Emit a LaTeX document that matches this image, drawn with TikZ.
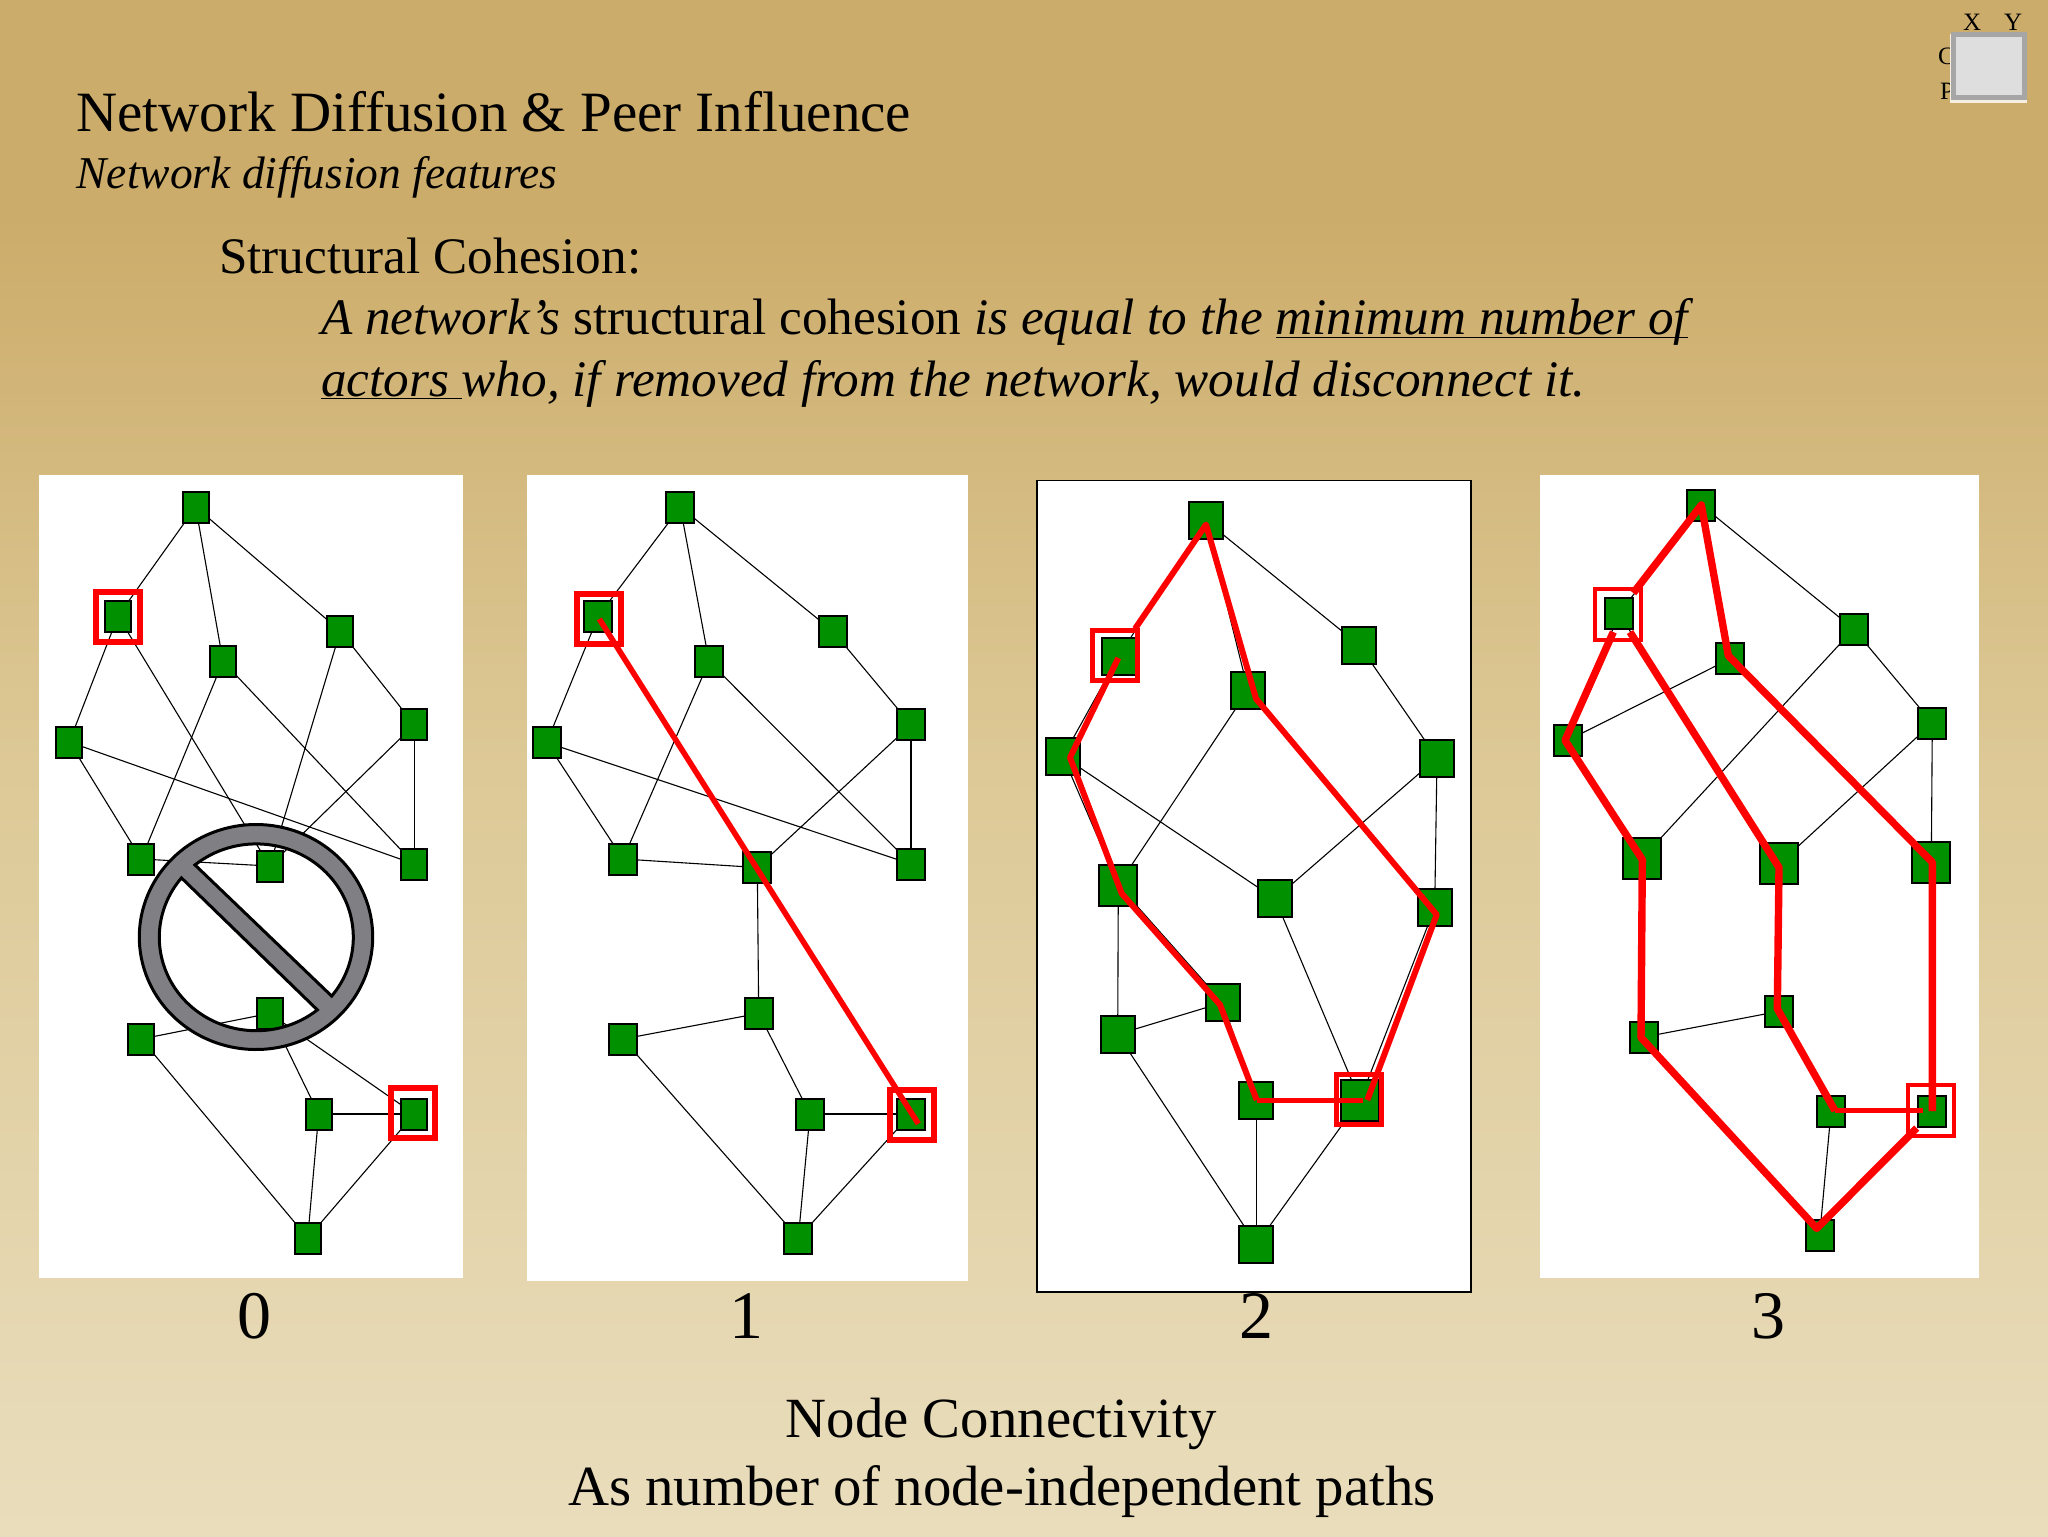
\documentclass[tikz,border=0pt]{standalone}
\usepackage{fontspec}
\setmainfont{Liberation Serif}
\definecolor{bgtop}{HTML}{CCAC6A}
\definecolor{bgmid}{HTML}{DDC997}
\definecolor{bgbot}{HTML}{E9DDBC}
\definecolor{ndgreen}{HTML}{009000}
\definecolor{signgray}{HTML}{7F7F84}
\pgfdeclareverticalshading{slidebg}{100bp}{color(0bp)=(bgbot); color(25bp)=(bgbot); color(50bp)=(bgmid); color(68bp)=(bgtop); color(75bp)=(bgtop); color(100bp)=(bgtop)}
\newcommand{\ulsm}[1]{\underline{\smash{#1}}}
\tikzset{
  nd/.style={rectangle,draw=black,line width=1pt,fill=ndgreen,inner sep=0pt,outer sep=0pt,minimum width=13pt,minimum height=15.5pt},
  ndw/.style={nd,minimum width=14pt},
  ndm/.style={nd,minimum width=17pt,minimum height=18.5pt},
  ndl/.style={nd,minimum width=19pt,minimum height=20.5pt},
  edge/.style={black,line width=0.55pt},
  hl/.style={rectangle,draw=red,line width=3pt,inner sep=0pt,outer sep=0pt,minimum width=22pt,minimum height=25pt},
  hlt/.style={hl,line width=2pt,minimum width=23pt,minimum height=25.5pt},
  hlm/.style={hl,line width=2.6pt,minimum width=22.5pt,minimum height=25pt},
  redp/.style={draw=red,line width=#1,line join=round,line cap=butt},
  txt/.style={inner sep=0pt,outer sep=0pt,anchor=base west,text=black},
  txtc/.style={inner sep=0pt,outer sep=0pt,anchor=base,text=black},
}
\begin{document}
\begin{tikzpicture}[x=0.5pt,y=-0.5pt]
\useasboundingbox (0,0) rectangle (2048,1536);
\shade[shading=slidebg] (0,0) rectangle (2048,1536);
% corner widget
\node[txtc,font=\fontsize{12.5}{14}\selectfont] (lx) at (1972,31) {X};
\node[txtc,font=\fontsize{12.5}{14}\selectfont] (ly) at (2013,31) {Y};
\node[txt,font=\fontsize{12.5}{14}\selectfont] (lc) at (1938,65) {C};
\node[txt,font=\fontsize{12.5}{14}\selectfont] (lp) at (1940,99) {P};
\fill[white!80!bgtop] (1950,34) rectangle (2027,103);
\fill[black!35] (1951,32) rectangle (2027,100);
\fill[black!13] (1956,37) rectangle (2022,95);
% text
\node[txt,font=\fontsize{28.5}{30}\selectfont] (title) at (76.5,132) {Network Diffusion \& Peer Influence};
\node[txt,font=\fontsize{22.75}{26}\selectfont\itshape] (sub) at (76.5,188) {Network diffusion features};
\node[txt,font=\fontsize{25.6}{28}\selectfont] (sc) at (219,273) {Structural Cohesion:};
\node[txt,font=\fontsize{25.6}{28}\selectfont] (l1) at (321,334.5) {\textit{A network’s} structural cohesion \textit{is equal to the} \textit{\ulsm{minimum number of}}};
\node[txt,font=\fontsize{25.6}{28}\selectfont\itshape] (l2) at (321,396) {\ulsm{actors\ }who, if removed from the network, would disconnect it.};
\foreach \t/\x in {0/254.7,1/746,2/1256,3/1768}
  \node[txtc,font=\fontsize{34}{40}\selectfont] (dig\t) at (\x,1338) {\t};
\node[txtc,font=\fontsize{28.4}{30}\selectfont] (cap1) at (1001,1437) {Node Connectivity};
\node[txtc,font=\fontsize{28.4}{30}\selectfont] (cap2) at (1002,1505) {As number of node-independent paths};
% panels
\fill[white] (39,475) rectangle (463,1278);
\fill[white] (527,475) rectangle (968,1281);
\draw[fill=white,draw=black,line width=0.8pt] (1036.7,480.6) rectangle (1471,1292);
\fill[white] (1540,475) rectangle (1979,1278);
% panel 0
\foreach \n/\x/\y in {1/195.7/507,2/118/616,3/223/661.4,4/340.3/631,5/69.3/742,6/414.3/724.7,7/141.3/859,8/269.7/866,9/414.3/864,10/269.7/1013.4,11/141.3/1039,12/318.7/1114,13/414.3/1114,14/307.7/1238}
  \node[nd] (a\n) at (\x,\y) {};
\foreach \u/\v in {1/2,1/3,1/4,2/5,2/8,3/7,3/9,4/6,4/8,5/7,5/9,6/9,6/8,7/8,10/11,10/12,10/13,11/14,12/13,12/14,13/14}
  \draw[edge] (a\u) -- (a\v);
\path[fill=signgray,draw=black,line width=1.5pt,even odd rule]
  plot[domain=0:360,samples=120,smooth] ({256+116.7*cos(\x)},{937+112.5*sin(\x)}) -- cycle
  plot[domain=-129.2:39,samples=60,smooth] ({256.3+97*cos(\x)},{937.3+93.4*sin(\x)}) -- cycle
  plot[domain=51:219.5,samples=60,smooth] ({256.3+97*cos(\x)},{937.3+93.4*sin(\x)}) -- cycle;
\node[hl] (ab1) at (118,616.5) {};
\node[hl] (ab2) at (412.5,1112.5) {};
% panel 1
\foreach \n/\x/\y in {1/680.3/507,2/598.3/616,3/709/661.4,4/832.7/631,5/546.7/742.5,6/911/724.7,7/623/859,8/757.3/867.5,9/911/864,10/758.7/1013.4,11/623/1039,12/810/1114,13/911/1114,14/798.3/1238}
  \node[ndw] (b\n) at (\x,\y) {};
\foreach \u/\v in {1/2,1/3,1/4,2/5,3/7,3/9,4/6,5/7,5/9,6/9,6/8,7/8,8/10,10/11,10/12,12/13,11/14,12/14,13/14}
  \draw[edge] (b\u) -- (b\v);
\node[hl] (bb1) at (599,618.5) {};
\node[hl] (bb2) at (912.3,1115) {};
\coordinate (br1) at (599.3,619);
\coordinate (br2) at (918.3,1123.8);
\draw[redp=2.8pt] (br1) -- (br2);
% panel 2
\foreach \n/\x/\y in {1/1206/520.8,2/1118.7/656.3,3/1248/690.2,4/1359.3/645.2,5/1063/756.4,6/1437/758,8/1275/898.8,9/1434.7/907.8,10/1222.7/1002.6,11/1117.7/1034.3,12/1256.3/1100,14/1256.3/1244.5}
  \node[ndm] (c\n) at (\x,\y) {};
\node[ndl] (c7) at (1118.3,885) {};
\node[ndl] (c13) at (1360,1100) {};
\foreach \u/\v in {1/2,1/3,1/4,2/5,3/7,5/8,5/7,4/6,6/8,6/9,7/11,7/10,10/11,10/12,12/13,8/13,9/13,11/14,12/14,13/14}
  \draw[edge] (c\u) -- (c\v);
\node[hlm] (cb1) at (1114.7,655.8) {};
\node[hlm] (cb2) at (1358.7,1099.2) {};
\foreach \n/\x/\y in {p1/1118.3/658,p2/1070/757.5,p3/1121.7/893.5,p4/1220/1004.7,p5/1256.7/1100,p6/1363.3/1100,q1/1135/628.8,q2/1206/524.5,q3/1256/698.7,q4/1436.7/914.7,q5/1367.3/1100}
  \coordinate (c\n) at (\x,\y);
\draw[redp=3pt] (cp1) -- (cp2) -- (cp3) -- (cp4) -- (cp5);
\draw[redp=2.5pt] (cp5) -- (cp6);
\draw[redp=3pt] (cq1) -- (cq2) -- (cq3) -- (cq4) -- (cq5);
% panel 3
\foreach \n/\x/\y in {1/1701.3/505,2/1619/613.8,3/1730/658.8,4/1853.7/629,5/1567.7/740.4,6/1932.3/723,10/1779.3/1011.3,11/1644/1037,12/1831/1111.2,13/1932.3/1111.2,14/1819.7/1235}
  \node[ndw] (d\n) at (\x,\y) {};
\node[ndl] (d7) at (1642.3,858) {};
\node[ndl] (d8) at (1779,863.8) {};
\node[ndl] (d9) at (1931.3,862) {};
\foreach \u/\v in {1/2,1/3,1/4,2/5,2/8,3/5,3/9,4/6,4/7,5/7,6/8,6/9,7/11,8/10,9/13,10/11,10/12,12/13,12/14}
  \draw[edge] (d\u) -- (d\v);
\node[hlt] (db1) at (1618.3,614.3) {};
\node[hlt] (db2) at (1930.5,1110.2) {};
\foreach \n/\x/\y in {p1/1633.3/593,p2/1701.3/505,p3/1728.3/655.7,p4/1932.3/862.3,p5/1932.3/1111,q1/1613.3/632,q2/1565/740.4,q3/1642.3/859.6,q4/1641/1037.5,q5/1816.7/1228.4,q6/1916.7/1128,r1/1630/632,r2/1779/867.5,r3/1777.3/1008.7,r4/1835/1110.7,r5/1923.3/1110.7}
  \coordinate (d\n) at (\x,\y);
\draw[redp=3.7pt] (dp1) -- (dp2) -- (dp3) -- (dp4) -- (dp5);
\draw[redp=3.7pt] (dq1) -- (dq2) -- (dq3) -- (dq4) -- (dq5) -- (dq6);
\draw[redp=3.7pt] (dr1) -- (dr2) -- (dr3) -- (dr4);
\draw[redp=2.6pt] (dr4) -- (dr5);
\end{tikzpicture}
\end{document}
